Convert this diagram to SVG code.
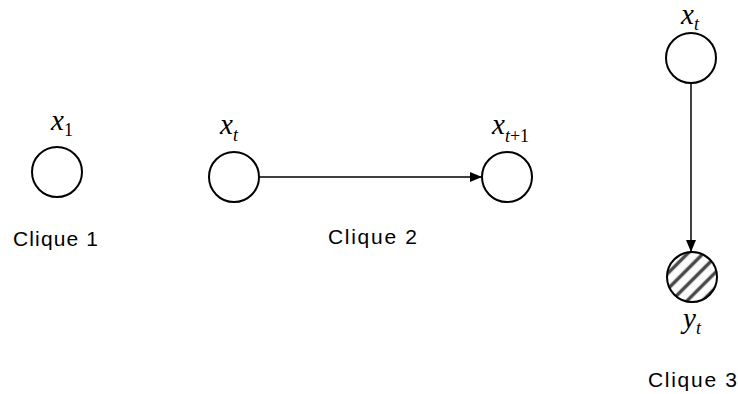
<svg xmlns="http://www.w3.org/2000/svg" width="738" height="394" viewBox="0 0 738 394">
<style>
.node{fill:#fff;stroke:#000;stroke-width:2}
.var{font-family:"Liberation Serif","Times New Roman",serif;font-style:italic;font-size:29px;fill:#000}
.sub{font-family:"Liberation Serif","Times New Roman",serif;font-size:18px;fill:#000}
.up{font-style:normal}
.lab{font-family:"Liberation Sans",Arial,sans-serif;font-size:21px;fill:#000}
.edge{stroke:#000;stroke-width:1.5;fill:none}
</style>
<defs>
<pattern id="hatch" patternUnits="userSpaceOnUse" width="11" height="11" patternTransform="rotate(45)">
<rect width="11" height="11" fill="#fff"/>
<line x1="5.5" y1="0" x2="5.5" y2="11" stroke="#4a4a4a" stroke-width="3.5"/>
</pattern>
<marker id="arr" viewBox="0 0 12 10" refX="12" refY="5" markerWidth="12" markerHeight="10" markerUnits="userSpaceOnUse" orient="auto">
<path d="M0,0 L12,5 L0,10 z" fill="#000"/>
</marker>
</defs>
<rect width="738" height="394" fill="#fff"/>
<g id="connectors">
<line class="edge" x1="260" y1="177" x2="482" y2="177" marker-end="url(#arr)"/>
<line class="edge" x1="691" y1="83" x2="691" y2="252" marker-end="url(#arr)"/>
</g>
<g id="x1">
<circle class="node" cx="57" cy="172" r="25"/>
<text class="var" x="51" y="130">x<tspan class="sub up" dy="6">1</tspan></text>
</g>
<g id="xt">
<circle class="node" cx="234" cy="177" r="25"/>
<text class="var" x="220" y="134">x<tspan class="sub" dy="7">t</tspan></text>
</g>
<g id="xt1">
<circle class="node" cx="507" cy="177" r="25"/>
<text class="var" x="492" y="134">x<tspan class="sub" dy="8">t</tspan><tspan class="sub up">+1</tspan></text>
</g>
<g id="xt3">
<circle class="node" cx="691" cy="58" r="25"/>
<text class="var" x="681" y="24">x<tspan class="sub" dy="6">t</tspan></text>
</g>
<g id="yt">
<circle cx="692" cy="277" r="25" fill="url(#hatch)" stroke="#000" stroke-width="2"/>
<text class="var" x="683" y="328">y<tspan class="sub" dy="6">t</tspan></text>
</g>
<g id="labels">
<text class="lab" x="13" y="246" textLength="85" lengthAdjust="spacing">Clique 1</text>
<text class="lab" x="328" y="244" textLength="89" lengthAdjust="spacing">Clique 2</text>
<text class="lab" x="648" y="387" textLength="89" lengthAdjust="spacing">Clique 3</text>
</g>
</svg>
